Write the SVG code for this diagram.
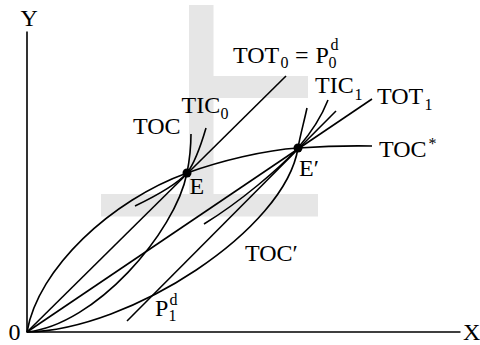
<svg xmlns="http://www.w3.org/2000/svg" width="480" height="345" viewBox="0 0 480 345">
<style>
.ln{fill:none;stroke:#000;stroke-width:1.6;stroke-linecap:butt}
.t{font-family:"Liberation Serif","Times New Roman",serif;font-size:24px;fill:#000}
.s{font-family:"Liberation Serif","Times New Roman",serif;font-size:16px;fill:#000}
</style>
<rect width="480" height="345" fill="#fff"/>
<path id="background" d="M189,5 H213.5 V76 H308 V98 H213.5 V194 H318 V216.5 H101 V194 H189 Z" fill="#e6e6e6"/>
<g id="axes">
<path class="ln" d="M27,31.5 V332 H460.5"/>
<text class="t" x="20.5" y="26">Y</text>
<text class="t" x="8.5" y="340">0</text>
<text class="t" x="463" y="340">X</text>
</g>
<g id="connectors">
<path id="TOT0" class="ln" d="M27,332 L286,76"/>
<path id="TOT1" class="ln" d="M27,332 L372,99"/>
<path id="TOCstar" class="ln" d="M27,332 C38,268 112,200 187,173 C220,161.1 265,150 298,148 C320,146.5 345,145.5 372,146"/>
<path id="TOC" class="ln" d="M27,332 C95,325 175,233 187,173 C189.5,160 191,147 191,134"/>
<path id="TIC0" class="ln" d="M135,206 C160,194 178,183 187,173 C194,164 201,145 206,128"/>
<path id="TOCprime" class="ln" d="M27,332 C130,330 285,230 298,148 C300,136 304,122 307,108"/>
<path id="P1d" class="ln" d="M127,321 L336,111"/>
<path id="TIC1" class="ln" d="M204,224 C240,202 280,168 298,148 C310,134 321,118 328,100"/>
</g>
<g id="E"><circle cx="187" cy="173" r="4.5"/><text class="t" x="189.5" y="194">E</text></g>
<g id="Eprime"><circle cx="298" cy="148" r="4.5"/><text class="t" x="299" y="176">E′</text></g>
<g id="label-TOC"><text class="t" x="133" y="134">TOC</text></g>
<g id="label-TIC0"><text class="t" x="181.5" y="113">TIC</text><text class="s" x="220.5" y="119">0</text></g>
<g id="label-TOT0"><text class="t" x="233" y="63">TOT</text><text class="s" x="280.5" y="68">0</text><text class="t" x="295" y="63">=</text><text class="t" x="315.5" y="63">P</text><text class="s" x="328.5" y="68">0</text><text class="s" x="330.5" y="50">d</text></g>
<g id="label-TIC1"><text class="t" x="315" y="93">TIC</text><text class="s" x="354.5" y="100">1</text></g>
<g id="label-TOT1"><text class="t" x="377" y="104">TOT</text><text class="s" x="424.5" y="110">1</text></g>
<g id="label-TOCstar"><text class="t" x="379" y="156.5">TOC</text><text class="s" x="428.5" y="149">*</text></g>
<g id="label-TOCprime"><text class="t" x="245" y="261">TOC′</text></g>
<g id="label-P1d"><text class="t" x="155" y="315.5">P</text><text class="s" x="168.5" y="321">1</text><text class="s" x="169.5" y="305">d</text></g>
</svg>
